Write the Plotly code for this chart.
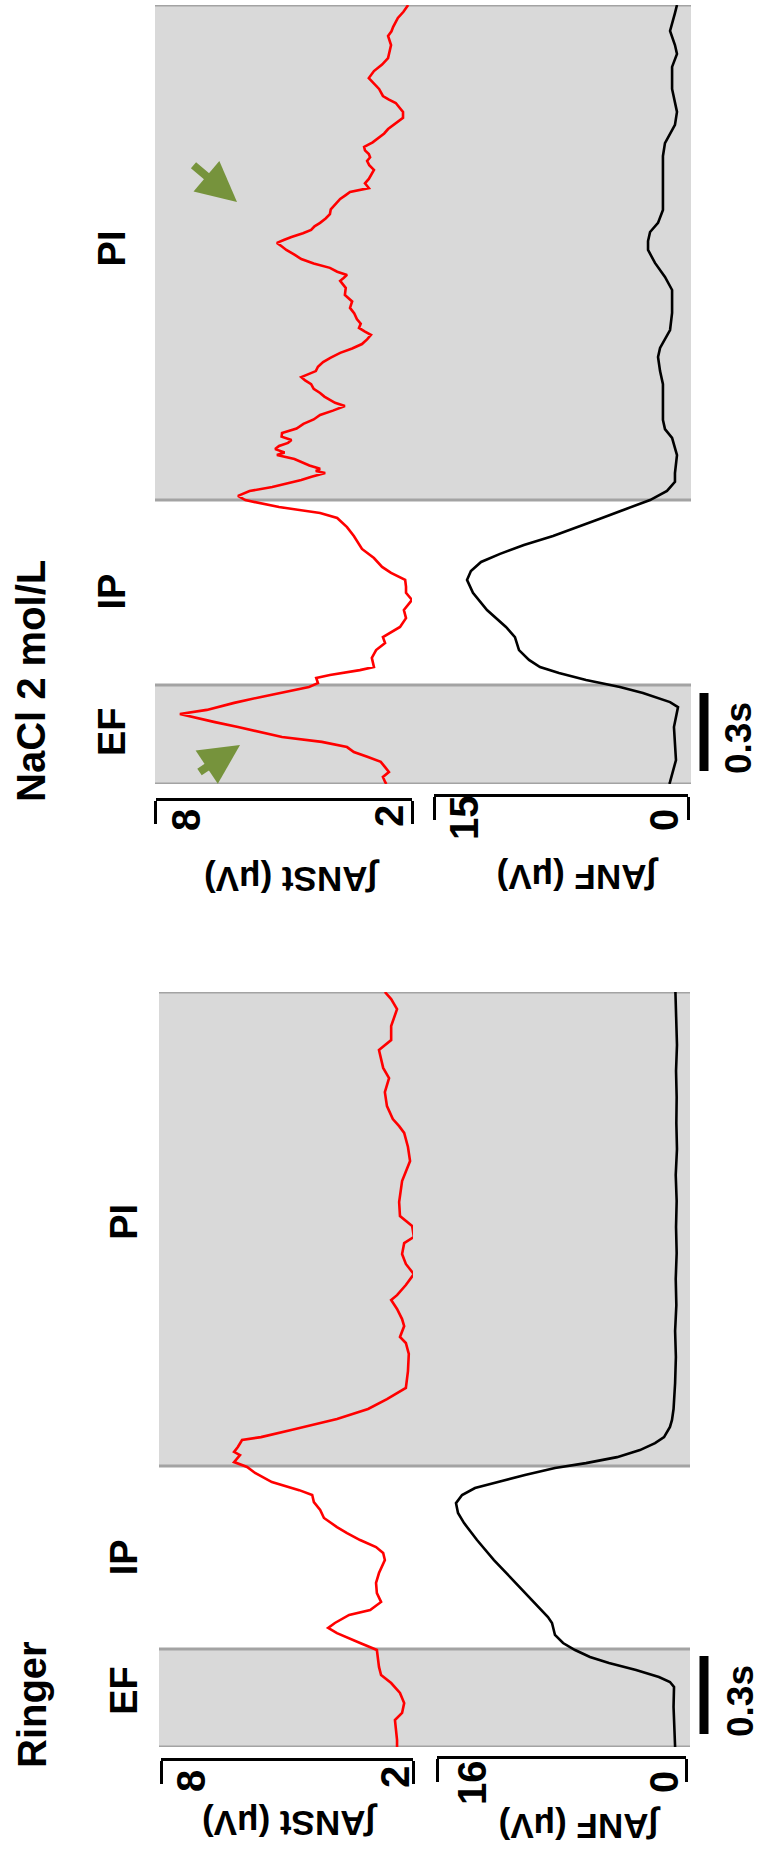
import plotly.graph_objects as go

W, H = 761, 1859

# ---------------- data: integrated nerve activity (time in s, amplitude in µV) ----------------
# Ringer
ringer_t_anst = [0.0, 0.027, 0.104, 0.131, 0.169, 0.208, 0.246, 0.277, 0.308, 0.373, 0.400, 0.438,
                 0.458, 0.477, 0.508, 0.527, 0.558, 0.592, 0.631, 0.669, 0.719, 0.746, 0.769, 0.796,
                 0.823, 0.846, 0.881, 0.912, 0.942, 0.969, 0.988, 1.019, 1.054, 1.077, 1.096, 1.123,
                 1.135, 1.154, 1.181, 1.192, 1.219, 1.262, 1.300, 1.338, 1.381, 1.446, 1.512, 1.554,
                 1.577, 1.619, 1.646, 1.685, 1.719, 1.738, 1.777, 1.819, 1.858, 1.896, 1.938, 1.962,
                 2.004, 2.042, 2.096, 2.177, 2.254, 2.308, 2.362, 2.388, 2.415, 2.465, 2.519, 2.573,
                 2.612, 2.654, 2.681, 2.719, 2.773, 2.838, 2.877, 2.904]
ringer_anst = [2.38, 2.38, 2.43, 2.26, 2.21, 2.31, 2.52, 2.76, 2.81, 2.86, 3.26, 3.81,
               4.02, 3.86, 3.52, 3.02, 2.76, 2.86, 2.88, 2.81, 2.67, 2.71, 2.88, 3.26,
               3.57, 3.81, 4.12, 4.21, 4.36, 4.40, 4.71, 5.36, 5.76, 5.95, 6.26, 6.12,
               6.26, 6.17, 6.07, 5.62, 4.90, 3.81, 3.07, 2.62, 2.17, 2.12, 2.10, 2.17,
               2.31, 2.21, 2.26, 2.38, 2.52, 2.38, 2.17, 1.98, 2.17, 2.26, 2.21, 1.98,
               2.02, 2.31, 2.33, 2.26, 2.07, 2.12, 2.21, 2.33, 2.48, 2.62, 2.67, 2.57,
               2.71, 2.76, 2.81, 2.52, 2.52, 2.38, 2.52, 2.67]

ringer_t_anf = [0.0, 0.027, 0.154, 0.231, 0.250, 0.269, 0.296, 0.323, 0.346, 0.373, 0.400, 0.431,
                0.477, 0.500, 0.565, 0.642, 0.719, 0.796, 0.862, 0.900, 0.938, 0.969, 0.996, 1.019,
                1.046, 1.073, 1.092, 1.115, 1.142, 1.169, 1.192, 1.231, 1.258, 1.30, 1.40, 1.50,
                1.60, 1.70, 1.80, 1.90, 2.00, 2.10, 2.20, 2.30, 2.40, 2.50, 2.60, 2.70, 2.80, 2.904]
ringer_anf = [0.70, 0.72, 0.80, 0.77, 1.03, 1.74, 3.21, 4.95, 6.17, 7.13, 7.90, 8.42,
              8.61, 8.87, 9.90, 11.12, 12.34, 13.43, 14.27, 14.65, 14.78, 14.39, 13.56, 12.08,
              10.35, 8.42, 6.43, 4.43, 2.96, 1.99, 1.41, 1.03, 0.90, 0.80, 0.70, 0.65,
              0.70, 0.62, 0.66, 0.60, 0.64, 0.60, 0.66, 0.58, 0.62, 0.60, 0.64, 0.58, 0.62, 0.68]

# NaCl 2 mol/L
nacl_t_anst = [0.0, 0.008, 0.027, 0.046, 0.065, 0.085, 0.104, 0.123, 0.142, 0.162, 0.181, 0.200,
               0.219, 0.238, 0.258, 0.269, 0.285, 0.312, 0.335, 0.354, 0.373, 0.388, 0.408, 0.419,
               0.438, 0.450, 0.485, 0.515, 0.542, 0.565, 0.604, 0.638, 0.669, 0.708, 0.735, 0.758,
               0.785, 0.812, 0.835, 0.869, 0.904, 0.954, 0.988, 1.023, 1.042, 1.065, 1.092, 1.108,
               1.127, 1.142, 1.155, 1.169, 1.182, 1.196, 1.204, 1.212, 1.225, 1.238, 1.250, 1.265,
               1.275, 1.288, 1.300, 1.312, 1.323, 1.336, 1.350, 1.367, 1.385, 1.402, 1.419, 1.436,
               1.454, 1.466, 1.477, 1.490, 1.504, 1.520, 1.538, 1.552, 1.565, 1.577, 1.588, 1.605,
               1.623, 1.640, 1.658, 1.675, 1.692, 1.710, 1.727, 1.740, 1.754, 1.770, 1.788, 1.810,
               1.831, 1.856, 1.881, 1.908, 1.935, 1.946, 1.958, 1.970, 1.985, 2.002, 2.019, 2.036,
               2.054, 2.068, 2.081, 2.092, 2.104, 2.118, 2.131, 2.145, 2.158, 2.175, 2.192, 2.210,
               2.227, 2.250, 2.265, 2.277, 2.292, 2.310, 2.327, 2.345, 2.362, 2.380, 2.396, 2.410,
               2.423, 2.437, 2.450, 2.468, 2.485, 2.502, 2.519, 2.540, 2.562, 2.585, 2.602, 2.619,
               2.633, 2.646, 2.673, 2.694, 2.715, 2.742, 2.767, 2.792, 2.817, 2.842, 2.877, 2.895,
               2.912, 2.946, 2.970, 2.996]
nacl_anst = [2.60, 2.63, 2.68, 2.54, 2.63, 2.73, 3.03, 3.36, 3.52, 4.11, 5.04, 5.53,
             6.07, 6.61, 7.15, 7.43, 6.80, 6.16, 5.53, 4.99, 4.41, 4.20, 4.24, 3.92,
             3.22, 2.89, 2.94, 2.84, 2.63, 2.68, 2.28, 2.14, 2.19, 2.00, 2.14, 2.14,
             2.16, 2.49, 2.70, 2.89, 3.17, 3.36, 3.52, 3.75, 4.15, 5.11, 5.90, 6.07,
             5.80, 5.27, 4.95, 4.59, 4.35, 4.03, 4.25, 4.15, 4.40, 4.59, 4.75, 5.16,
             4.98, 5.20, 5.11, 4.90, 4.82, 5.05, 5.04, 4.70, 4.54, 4.30, 4.15, 3.85,
             3.57, 3.80, 3.92, 4.05, 4.15, 4.30, 4.36, 4.50, 4.59, 4.40, 4.25, 4.20,
             4.08, 3.90, 3.68, 3.40, 3.17, 3.05, 2.96, 3.10, 3.24, 3.20, 3.29, 3.35,
             3.45, 3.40, 3.57, 3.55, 3.68, 3.60, 3.52, 3.75, 3.92, 4.30, 4.59, 4.75,
             4.94, 5.05, 5.16, 5.00, 4.82, 4.55, 4.36, 4.28, 4.15, 4.02, 3.92, 3.90,
             3.80, 3.68, 3.55, 3.45, 3.01, 3.10, 3.01, 2.95, 2.89, 3.00, 3.05, 2.98,
             3.01, 3.10, 3.12, 2.92, 2.77, 2.65, 2.56, 2.38, 2.21, 2.21, 2.30, 2.38,
             2.55, 2.68, 2.77, 2.90, 3.01, 2.89, 2.70, 2.56, 2.52, 2.49, 2.56, 2.48,
             2.44, 2.33, 2.20, 2.09]

nacl_t_anf = [0.0, 0.008, 0.092, 0.219, 0.296, 0.315, 0.350, 0.373, 0.400, 0.427, 0.450, 0.477,
              0.515, 0.542, 0.565, 0.604, 0.669, 0.735, 0.785, 0.819, 0.854, 0.885, 0.919, 0.954,
              0.988, 1.023, 1.058, 1.092, 1.127, 1.162, 1.196, 1.265, 1.331, 1.365, 1.400, 1.469,
              1.538, 1.588, 1.642, 1.677, 1.712, 1.746, 1.812, 1.900, 1.950, 2.004, 2.054, 2.088,
              2.123, 2.158, 2.208, 2.277, 2.415, 2.465, 2.500, 2.535, 2.585, 2.619, 2.673, 2.758,
              2.808, 2.842, 2.896, 2.965, 2.996]
nacl_anf = [1.10, 1.06, 0.71, 0.83, 0.59, 1.06, 2.66, 4.02, 6.02, 7.62, 8.74, 9.39,
            9.98, 10.10, 10.22, 10.75, 11.87, 12.70, 13.05, 12.82, 12.22, 11.10, 9.69, 7.97,
            6.50, 5.08, 3.66, 2.24, 1.24, 0.77, 0.77, 0.65, 0.94, 1.36, 1.48, 1.48,
            1.48, 1.65, 1.77, 1.65, 1.36, 1.06, 0.94, 0.94, 1.36, 1.95, 2.36, 2.36,
            2.24, 1.77, 1.48, 1.48, 1.48, 1.36, 1.06, 0.77, 0.65, 0.77, 0.94, 0.94,
            0.65, 0.77, 1.06, 0.77, 0.65]

# respiratory phases (s): expiratory flow and post-inspiration blocks are shaded
ringer_phases = {"EF": (0.0, 0.377), "PI": (1.081, 2.904)}
nacl_phases = {"EF": (0.0, 0.381), "PI": (1.092, 2.996)}
ringer_phase_labels = {"EF": 0.22, "IP": 0.73, "PI": 2.02}
nacl_phase_labels = {"EF": 0.20, "IP": 0.74, "PI": 2.06}
scale_bar = (0.05, 0.35)  # 0.3 s

FONT = "Liberation Sans, Arial, sans-serif"
GRAY = "#d9d9d9"
EDGE = "#a3a3a3"
GREEN = "#76933c"


def px(x):
    return x / W


def py(y):
    return 1 - y / H


fig = go.Figure()

fig.add_trace(go.Scatter(x=ringer_anst, y=ringer_t_anst, xaxis="x", yaxis="y",
                         mode="lines", line=dict(color="#ff0000", width=2.6)))
fig.add_trace(go.Scatter(x=ringer_anf, y=ringer_t_anf, xaxis="x2", yaxis="y",
                         mode="lines", line=dict(color="black", width=2.6)))
fig.add_trace(go.Scatter(x=nacl_anst, y=nacl_t_anst, xaxis="x3", yaxis="y2",
                         mode="lines", line=dict(color="#ff0000", width=2.6)))
fig.add_trace(go.Scatter(x=nacl_anf, y=nacl_t_anf, xaxis="x4", yaxis="y2",
                         mode="lines", line=dict(color="black", width=2.6)))


def value_axis(x0, x1, y, rng):
    return dict(domain=[px(x0), px(x1)], range=rng, anchor="free", position=py(y),
                showline=True, linewidth=3, linecolor="black", showgrid=False,
                zeroline=False, ticks="outside", tickvals=list(rng), ticklen=23,
                tickwidth=3, tickcolor="black", showticklabels=False, fixedrange=True)


def time_axis(y_bottom, y_top, t_max):
    return dict(domain=[py(y_bottom), py(y_top)], range=[0, t_max], anchor="free",
                position=0, visible=False, fixedrange=True)


fig.update_layout(
    width=W, height=H, margin=dict(l=0, r=0, t=0, b=0),
    paper_bgcolor="white", plot_bgcolor="rgba(0,0,0,0)", showlegend=False,
    xaxis=value_axis(161, 413, 1759, [8, 2]),
    xaxis2=value_axis(437, 686, 1757, [16, 0]),
    xaxis3=value_axis(155.5, 412, 799, [8, 2]),
    xaxis4=value_axis(434, 688, 795, [15, 0]),
    yaxis=time_axis(1747, 992, 2.904),
    yaxis2=time_axis(784, 5, 2.996),
)

shapes = []
for phases, yref, (gx0, gx1) in ((ringer_phases, "y", (159, 690)), (nacl_phases, "y2", (155, 691))):
    for t0, t1 in phases.values():
        shapes.append(dict(type="rect", xref="paper", yref=yref, x0=px(gx0), x1=px(gx1),
                           y0=t0, y1=t1, fillcolor=GRAY, line=dict(width=0), layer="below"))
        for tb in (t0, t1):
            shapes.append(dict(type="line", xref="paper", yref=yref, x0=px(gx0), x1=px(gx1),
                               y0=tb, y1=tb, line=dict(color=EDGE, width=3), layer="below"))
    shapes.append(dict(type="line", xref="paper", yref=yref, x0=px(704), x1=px(704),
                       y0=scale_bar[0], y1=scale_bar[1], line=dict(color="black", width=9)))
fig.update_layout(shapes=shapes)

ann = []


def text(x, y, s, size, angle=-90):
    ann.append(dict(x=px(x), y=py(y), xref="paper", yref="paper", text=f"<b>{s}</b>",
                    showarrow=False, textangle=angle, xanchor="center", yanchor="middle",
                    font=dict(family=FONT, size=size, color="black")))


# panel titles
text(32, 1705, "Ringer", 40)
text(31, 681, "NaCl 2 mol/L", 40)

# phase labels
for name, t in ringer_phase_labels.items():
    text(124, 1747 - t * 260, name, 38)
for name, t in nacl_phase_labels.items():
    text(112, 784 - t * 260, name, 38)

# scale bar labels
text(740, 1701, "0.3s", 37)
text(739, 738, "0.3s", 37)

# amplitude scale labels
for x, y, s in ((191, 1781, "8"), (395, 1777, "2"), (472, 1783, "16"), (664, 1782, "0"),
                (186, 820, "8"), (389, 816, "2"), (464, 818, "15"), (664, 820, "0")):
    text(x, y, s, 40)

# amplitude titles
text(290, 1823, "∫ANSt (μV)", 35, angle=180)
text(580, 1826, "∫ANF (μV)", 35, angle=180)
text(292, 879, "∫ANSt (μV)", 35, angle=180)
text(578, 877, "∫ANF (μV)", 35, angle=180)

# arrows marking the tonic activity
for (hx, hy), (tx, ty) in (((240, 745), (198, 773)), ((237, 202), (192, 164))):
    ann.append(dict(x=px(hx), y=py(hy), xref="paper", yref="paper", ax=tx - hx, ay=ty - hy,
                    axref="pixel", ayref="pixel", text="", showarrow=True, arrowhead=2,
                    arrowsize=1.0, arrowwidth=8, arrowcolor=GREEN, standoff=0))

fig.update_layout(annotations=ann)

fig.write_html("out.html")
